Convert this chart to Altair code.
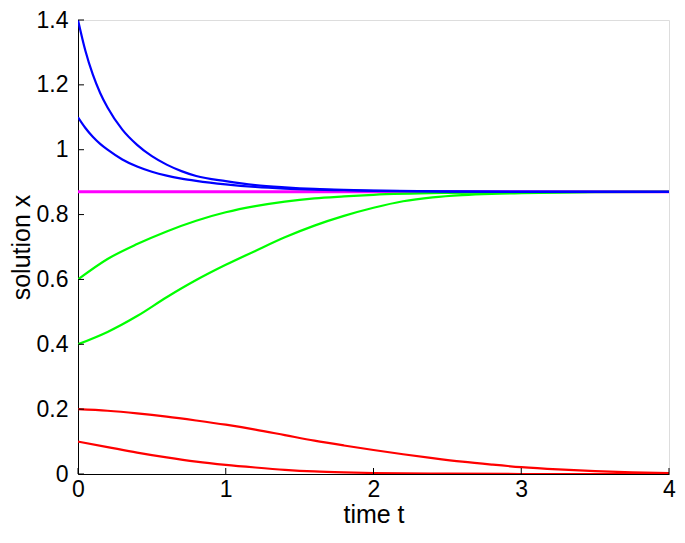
import altair as alt
import pandas as pd

# ---- data ----
t_blue = [0, 0.05, 0.1, 0.15, 0.2, 0.3, 0.4, 0.5, 0.6, 0.7, 0.8, 1.0, 1.2, 1.4, 1.6, 1.8, 2.0, 2.5, 3.0, 4.0]
blue_14 = [1.400, 1.305, 1.232, 1.175, 1.130, 1.062, 1.015, 0.980, 0.954, 0.934, 0.919, 0.903, 0.891, 0.884, 0.879, 0.876, 0.874, 0.8715, 0.8705, 0.870]
blue_11 = [1.100, 1.067, 1.040, 1.018, 1.000, 0.970, 0.948, 0.932, 0.920, 0.911, 0.904, 0.893, 0.885, 0.880, 0.877, 0.875, 0.873, 0.871, 0.870, 0.870]

t_eq = [0, 4]
magenta_eq = [0.87, 0.87]

t_g06 = [0, 0.2, 0.4, 0.6, 0.8, 1.0, 1.2, 1.4, 1.6, 1.8, 2.0, 2.5, 3.0, 3.5, 4.0]
green_06 = [0.600, 0.663, 0.709, 0.748, 0.781, 0.807, 0.826, 0.840, 0.850, 0.856, 0.861, 0.867, 0.869, 0.870, 0.870]

t_g04 = [0, 0.2, 0.4, 0.6, 0.8, 1.0, 1.2, 1.4, 1.6, 1.8, 2.0, 2.2, 2.4, 2.6, 2.8, 3.0, 3.5, 4.0]
green_04 = [0.400, 0.438, 0.487, 0.545, 0.598, 0.645, 0.688, 0.730, 0.766, 0.796, 0.821, 0.841, 0.853, 0.860, 0.864, 0.866, 0.869, 0.870]

t_r02 = [0, 0.2, 0.4, 0.6, 0.8, 1.0, 1.2, 1.4, 1.6, 1.8, 2.0, 2.2, 2.4, 2.6, 2.8, 3.0, 3.25, 3.5, 3.75, 4.0]
red_02 = [0.200, 0.195, 0.187, 0.177, 0.165, 0.152, 0.137, 0.120, 0.103, 0.088, 0.074, 0.061, 0.049, 0.038, 0.029, 0.021, 0.014, 0.009, 0.005, 0.003]

t_r01 = [0, 0.2, 0.4, 0.6, 0.8, 1.0, 1.2, 1.4, 1.6, 1.8, 2.0, 2.5, 3.0, 4.0]
red_01 = [0.100, 0.083, 0.066, 0.051, 0.038, 0.028, 0.020, 0.013, 0.008, 0.005, 0.003, 0.001, 0.0, 0.0]

x_ticks = [0, 1, 2, 3, 4]
y_ticks = [0, 0.2, 0.4, 0.6, 0.8, 1.0, 1.2, 1.4]

series_names = ["red 0.1", "red 0.2", "green 0.4", "green 0.6", "blue 1.1", "blue 1.4"]
series_colors = ["#ff0000", "#ff0000", "#00ff00", "#00ff00", "#0000ff", "#0000ff"]

# ---- build tables ----
rows = []
for name, ts, ys in [
    ("red 0.1", t_r01, red_01),
    ("red 0.2", t_r02, red_02),
    ("green 0.4", t_g04, green_04),
    ("green 0.6", t_g06, green_06),
    ("blue 1.1", t_blue, blue_11),
    ("blue 1.4", t_blue, blue_14),
]:
    for t, y in zip(ts, ys):
        rows.append({"series": name, "t": t, "x": y})
curves = pd.DataFrame(rows)
eq = pd.DataFrame({"t": t_eq, "x": magenta_eq})
xt = pd.DataFrame({"t": x_ticks})
yt = pd.DataFrame({"x": y_ticks})

W, H = 591, 454
FONT = "Liberation Sans"
LABEL_SIZE = 23
TITLE_SIZE = 25

xscale = alt.Scale(domain=[0, 4], nice=False, zero=False)
yscale = alt.Scale(domain=[0, 1.4], nice=False, zero=False)

xaxis = alt.Axis(values=x_ticks, format="d", title="time t", grid=False,
                 ticks=False, tickSize=0, labelPadding=4, titlePadding=1,
                 labelFlush=False, labelOverlap=False,
                 domainColor="black", domainWidth=1,
                 labelFont=FONT, labelFontSize=LABEL_SIZE, labelColor="black",
                 titleFont=FONT, titleFontSize=TITLE_SIZE, titleFontWeight="normal", titleColor="black")
yaxis = alt.Axis(values=y_ticks, format=".1~f", title="solution x", grid=False,
                 ticks=False, tickSize=0, labelPadding=10, titlePadding=2,
                 labelFlush=False, labelOverlap=False,
                 domainColor="black", domainWidth=1,
                 labelFont=FONT, labelFontSize=LABEL_SIZE, labelColor="black",
                 titleFont=FONT, titleFontSize=TITLE_SIZE, titleFontWeight="normal", titleColor="black")

base_eq = alt.Chart(eq).mark_line(color="#ff00ff", strokeWidth=3, clip=True).encode(
    x=alt.X("t:Q", scale=xscale, axis=xaxis),
    y=alt.Y("x:Q", scale=yscale, axis=yaxis),
)

lines = alt.Chart(curves).mark_line(strokeWidth=2.2, interpolate="monotone", clip=True).encode(
    x=alt.X("t:Q", scale=xscale),
    y=alt.Y("x:Q", scale=yscale),
    color=alt.Color("series:N", scale=alt.Scale(domain=series_names, range=series_colors), legend=None),
    detail="series:N",
)

xticks = alt.Chart(xt).mark_rule(color="black", strokeWidth=1).encode(
    x=alt.X("t:Q", scale=xscale),
    y=alt.value(H),
    y2=alt.value(H - 6),
)
yticks = alt.Chart(yt).mark_rule(color="black", strokeWidth=1).encode(
    y=alt.Y("x:Q", scale=yscale),
    x=alt.value(0),
    x2=alt.value(6),
)

chart = alt.layer(base_eq, lines, xticks, yticks).properties(
    width=W, height=H,
    autosize=alt.AutoSizeParams(type="none"),
    padding={"left": 70, "top": 12, "right": 8, "bottom": 54},
).configure_view(stroke=None).configure(background="white")

chart.save("out.html", embed_options={"renderer": "svg", "actions": False})
